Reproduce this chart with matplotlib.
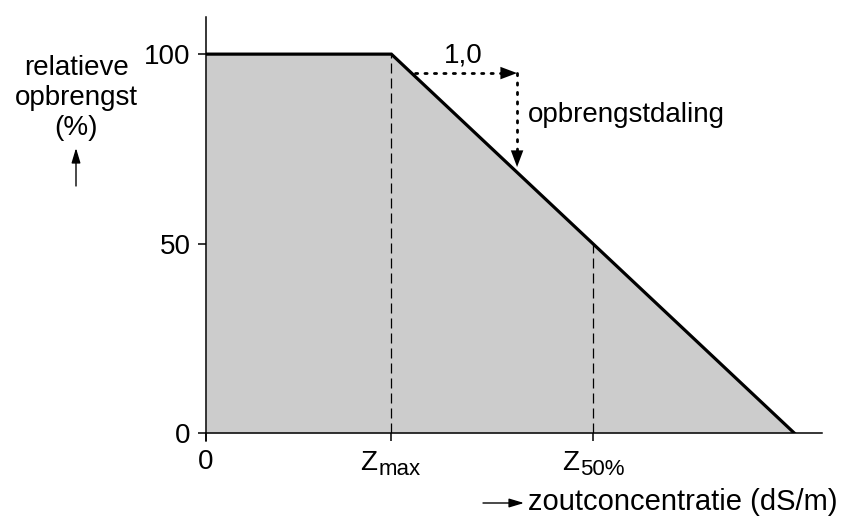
import matplotlib
matplotlib.use("Agg")
import matplotlib.pyplot as plt
from matplotlib.patches import FancyArrowPatch

plt.rcParams['font.family'] = ['Liberation Sans', 'DejaVu Sans']

# opbrengstcurve (x in willekeurige eenheden dS/m)
curve_x = [0, 2.3, 7.3]
curve_y = [100, 100, 0]
z_max = 2.3
z_50 = 4.8
y_ticks = [0, 50, 100]
x_tick_pos = [0, z_max, z_50]
x_tick_main = ["0", "Z", "Z"]
x_tick_sub = ["", "max", "50%"]

fig = plt.figure(figsize=(8.41, 5.23), dpi=100)
ax = fig.add_axes([0.245, 0.172, 0.732, 0.7955])

ax.fill_between(curve_x, curve_y, 0, color="#cccccc", linewidth=0)
ax.plot(curve_x, curve_y, color="black", linewidth=2.3, solid_joinstyle="miter")

# gestreepte verticale lijnen
ax.plot([z_max, z_max], [0, 100], color="black", linewidth=0.9, dashes=(8, 4))
ax.plot([z_50, z_50], [0, 50], color="black", linewidth=0.9, dashes=(8, 4))

# helling-aanduiding: gestippelde lijnen met dichte pijlpunten
dots = dict(color="black", linewidth=2.0, linestyle=(0, (0.8, 2.6)), dash_capstyle="round")
ax.plot([2.59, 3.7], [95, 95], **dots)
ax.plot([3.86, 3.86], [95, 73], **dots)
head = dict(arrowstyle="-|>,head_length=1.2,head_width=0.45", color="black", lw=0,
            mutation_scale=10, shrinkA=0, shrinkB=0)
ax.annotate("", xy=(3.86, 95), xytext=(-25, 0), textcoords="offset pixels", arrowprops=head)
ax.annotate("", xy=(3.86, 70.2), xytext=(0, 25), textcoords="offset pixels", arrowprops=head)
ax.text(3.19, 97.9, "1,0", fontsize=20, ha="center", va="baseline")
ax.text(4.0, 82.1, "opbrengstdaling", fontsize=20, ha="left", va="baseline")

ax.set_xlim(0, 7.64)
ax.set_ylim(0, 109.8)
ax.spines["top"].set_visible(False)
ax.spines["right"].set_visible(False)
ax.spines["left"].set_linewidth(1.1)
ax.spines["bottom"].set_linewidth(1.1)
ax.spines["left"].set_bounds(-2, 109.8)
ax.set_yticks(y_ticks)
ax.set_yticklabels([str(v) for v in y_ticks], fontsize=20)
ax.set_xticks(x_tick_pos)
ax.set_xticklabels([])
ax.tick_params(axis="both", direction="out", length=6, width=1.1, pad=5)

# x-tick labels met grote subscripts
for pos, main, sub in zip(x_tick_pos, x_tick_main, x_tick_sub):
    if not sub:
        ax.annotate(main, xy=(pos, 0), xycoords=("data", "axes fraction"),
                    xytext=(0, -36), textcoords="offset pixels",
                    ha="center", va="baseline", fontsize=20)
        continue
    ax.annotate(main, xy=(pos, 0), xycoords=("data", "axes fraction"),
                xytext=(-14, -37), textcoords="offset pixels",
                ha="right", va="baseline", fontsize=20)
    ax.annotate(sub, xy=(pos, 0), xycoords=("data", "axes fraction"),
                xytext=(-13, -42), textcoords="offset pixels",
                ha="left", va="baseline", fontsize=16)

# aslabels
fig.text(76 / 841, 1 - 98 / 523, "relatieve\nopbrengst\n(%)", fontsize=20,
         ha="center", va="center", linespacing=1.2)
fig.patches.append(FancyArrowPatch(
    (76 / 841, 1 - 186 / 523), (76 / 841, 1 - 148 / 523), transform=fig.transFigure,
    arrowstyle="-|>,head_length=1.0,head_width=0.3", mutation_scale=9,
    color="black", lw=1.0, shrinkA=0, shrinkB=0))
fig.text(838 / 841, 1 - 502 / 523, "zoutconcentratie (dS/m)", fontsize=21,
         ha="right", va="center")
fig.patches.append(FancyArrowPatch(
    (483 / 841, 1 - 503 / 523), (524 / 841, 1 - 503 / 523), transform=fig.transFigure,
    arrowstyle="-|>,head_length=1.0,head_width=0.3", mutation_scale=9,
    color="black", lw=1.0, shrinkA=0, shrinkB=0))

fig.savefig("out.png", dpi=100)
